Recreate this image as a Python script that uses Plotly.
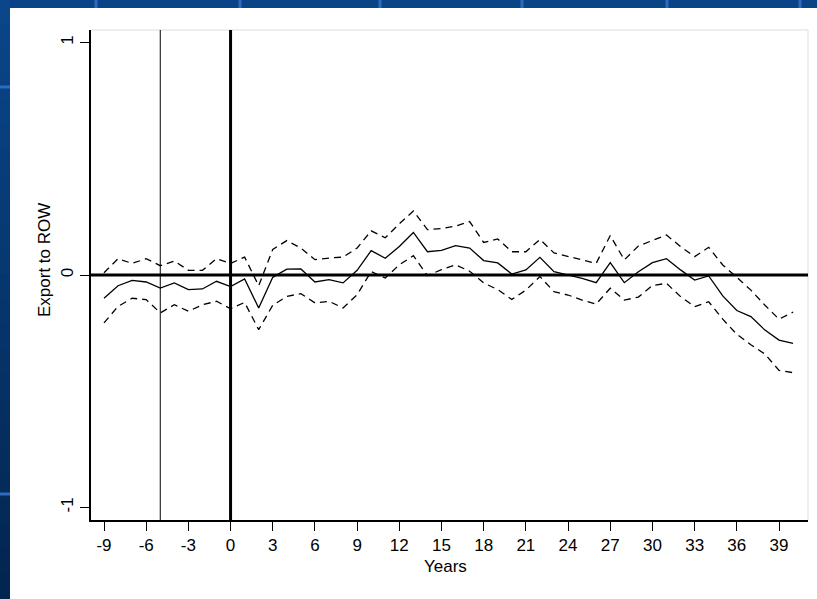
import plotly.graph_objects as go

years = list(range(-9, 41))

estimate = [-0.100, -0.046, -0.023, -0.030, -0.056, -0.034, -0.063, -0.060, -0.027, -0.050,
            -0.017, -0.142, -0.010, 0.025, 0.026, -0.030, -0.020, -0.034, 0.020, 0.105,
            0.072, 0.123, 0.183, 0.100, 0.106, 0.126, 0.116, 0.062, 0.052, 0.004,
            0.022, 0.076, 0.014, 0.000, -0.014, -0.033, 0.053, -0.033, 0.014, 0.053,
            0.070, 0.022, -0.022, -0.004, -0.090, -0.153, -0.179, -0.237, -0.280, -0.294]

upper_ci = [0.010, 0.070, 0.050, 0.070, 0.040, 0.060, 0.020, 0.020, 0.070, 0.050,
            0.077, -0.046, 0.110, 0.148, 0.116, 0.066, 0.073, 0.077, 0.116, 0.190,
            0.160, 0.220, 0.275, 0.195, 0.200, 0.210, 0.230, 0.140, 0.155, 0.100,
            0.100, 0.153, 0.095, 0.080, 0.065, 0.050, 0.170, 0.065, 0.125, 0.148,
            0.172, 0.122, 0.079, 0.119, 0.043, -0.010, -0.065, -0.130, -0.190, -0.160]

lower_ci = [-0.206, -0.135, -0.100, -0.106, -0.163, -0.128, -0.156, -0.128, -0.113, -0.145,
            -0.118, -0.235, -0.130, -0.092, -0.080, -0.120, -0.113, -0.142, -0.085, 0.015,
            -0.013, 0.044, 0.083, -0.003, 0.023, 0.044, 0.016, -0.034, -0.063, -0.105,
            -0.065, -0.007, -0.072, -0.086, -0.108, -0.125, -0.057, -0.108, -0.095, -0.045,
            -0.036, -0.093, -0.136, -0.115, -0.190, -0.255, -0.300, -0.340, -0.410, -0.420]

x_ticks = list(range(-9, 40, 3))
x_tick_labels = [str(v) for v in x_ticks]
y_ticks = [-1, 0, 1]
y_tick_labels = ["-1", "0", "1"]
event_year = 0
pre_mark_year = -5

W, H = 817, 599
L, R, T, B = 91, 808, 30, 520
pw, ph = R - L, B - T

def px(xp):
    return (xp - L) / pw

def py(yp):
    return (B - yp) / ph

FONT = "Liberation Sans, Arial, sans-serif"

fig = go.Figure()
fig.add_trace(go.Scatter(x=years, y=upper_ci, mode="lines",
                         line=dict(color="black", width=1.3, dash="7px,5px"),
                         showlegend=False, hoverinfo="skip"))
fig.add_trace(go.Scatter(x=years, y=lower_ci, mode="lines",
                         line=dict(color="black", width=1.3, dash="7px,5px"),
                         showlegend=False, hoverinfo="skip"))
fig.add_trace(go.Scatter(x=years, y=estimate, mode="lines",
                         line=dict(color="black", width=1.3),
                         showlegend=False))

shapes = []
# slide background strips (decorative)
n = 24
for i in range(n):
    t = i / (n - 1)
    r = int(11 + (3 - 11) * t)
    g = int(70 + (38 - 70) * t)
    b = int(138 + (80 - 138) * t)
    y0 = H * i / n
    y1 = H * (i + 1) / n + 1
    shapes.append(dict(type="rect", xref="paper", yref="paper",
                       x0=px(-5), x1=px(10), y0=py(y1), y1=py(y0),
                       fillcolor=f"rgb({r},{g},{b})", line=dict(width=0), layer="below"))
for xv in [96, 240, 380, 522, 667, 800]:
    shapes.append(dict(type="line", xref="paper", yref="paper",
                       x0=px(xv), x1=px(xv), y0=py(8), y1=py(-5),
                       line=dict(color="#2a6cc0", width=3), layer="below"))
for yv in [87, 494]:
    shapes.append(dict(type="line", xref="paper", yref="paper",
                       x0=px(-5), x1=px(10), y0=py(yv), y1=py(yv),
                       line=dict(color="#2a6cc0", width=3), layer="below"))
# white panel
shapes.append(dict(type="rect", xref="paper", yref="paper",
                   x0=px(10), x1=px(830), y0=py(610), y1=py(8),
                   fillcolor="white", line=dict(width=0), layer="below"))
# light plot region frame (top/right)
shapes.append(dict(type="line", xref="paper", yref="paper", x0=0, x1=1, y0=1, y1=1,
                   line=dict(color="#e3ebec", width=1.5), layer="below"))
shapes.append(dict(type="line", xref="paper", yref="paper", x0=1, x1=1, y0=0, y1=1,
                   line=dict(color="#e3ebec", width=1.5), layer="below"))
# reference lines
shapes.append(dict(type="line", xref="paper", yref="y", x0=0, x1=1, y0=0, y1=0,
                   line=dict(color="black", width=3)))
shapes.append(dict(type="line", xref="x", yref="paper", x0=event_year, x1=event_year, y0=0, y1=1,
                   line=dict(color="black", width=3)))
shapes.append(dict(type="line", xref="x", yref="paper", x0=pre_mark_year, x1=pre_mark_year, y0=0, y1=1,
                   line=dict(color="black", width=1)))

x0v = -9 - (104 - L) / 14.0625
x1v = -9 + (R - 104) / 14.0625
yr = (B - 275) / 232.5

fig.update_layout(
    width=W, height=H,
    margin=dict(l=L, r=W - R, t=T, b=H - B, pad=0),
    paper_bgcolor="#0b4486",
    plot_bgcolor="rgba(0,0,0,0)",
    font=dict(family=FONT, size=17, color="black"),
    shapes=shapes,
    xaxis=dict(range=[x0v, x1v], tickvals=x_ticks, ticktext=x_tick_labels,
               ticks="outside", ticklen=9,
               tickwidth=1.3, tickcolor="black", showline=True, linecolor="black",
               linewidth=1.5, showgrid=False, zeroline=False,
               tickfont=dict(family=FONT, size=17, color="black")),
    yaxis=dict(range=[-yr, (275 - T) / 232.5], tickvals=y_ticks, ticktext=y_tick_labels,
               ticks="outside", ticklen=9, tickwidth=1.3, tickcolor="black",
               showline=True, linecolor="black", linewidth=1.5, showgrid=False,
               zeroline=False, tickangle=-90, ticklabelstandoff=0,
               tickfont=dict(family=FONT, size=17, color="black")),
    annotations=[
        dict(text="Export to ROW", xref="paper", yref="paper", x=px(44), y=py(260),
             textangle=-90, showarrow=False, xanchor="center", yanchor="middle",
             font=dict(family=FONT, size=17, color="black")),
        dict(text="Years", xref="paper", yref="paper", x=px(445), y=py(566),
             showarrow=False, xanchor="center", yanchor="middle",
             font=dict(family=FONT, size=17, color="black")),
    ],
)

fig.write_html("out.html", config={"displayModeBar": False},
               post_script="document.body.style.margin='0';document.body.style.overflow='hidden';")
